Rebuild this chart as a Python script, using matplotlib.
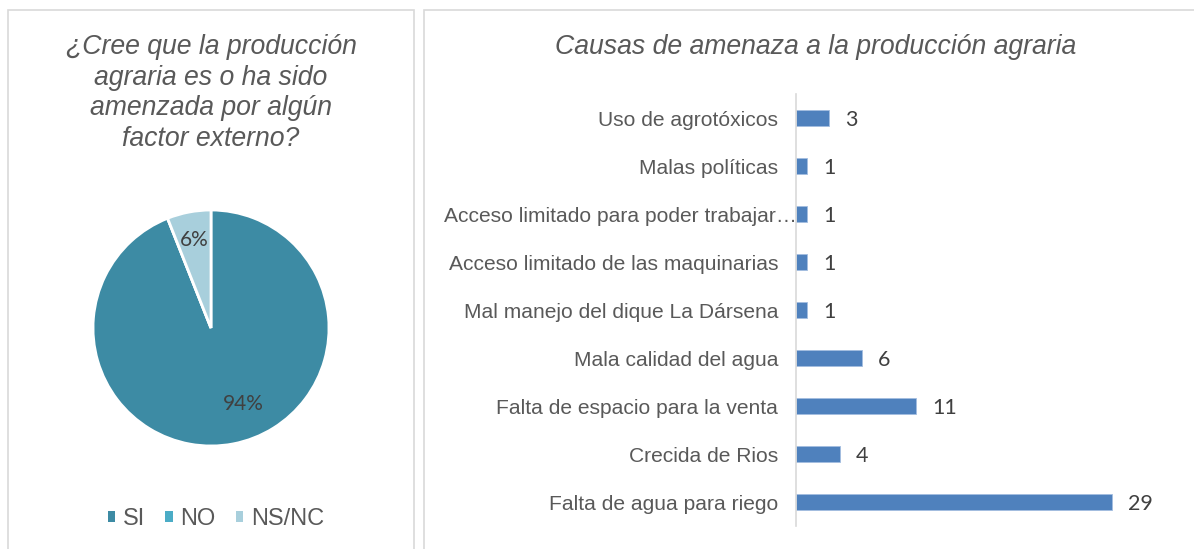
import matplotlib.pyplot as plt
import matplotlib.transforms as mtransforms
from matplotlib.patches import Rectangle, Patch

# datos del grafico circular
pie_labels = ['SI', 'NO', 'NS/NC']
pie_values = [94, 0, 6]
pie_colors = ['#3d8ba4', '#4bacc6', '#a8cfdc']

# datos de las causas (de arriba a abajo)
causas = ['Uso de agrotóxicos', 'Malas políticas', 'Acceso limitado para poder trabajar…',
          'Acceso limitado de las maquinarias', 'Mal manejo del dique La Dársena',
          'Mala calidad del agua', 'Falta de espacio para la venta', 'Crecida de Rios',
          'Falta de agua para riego']
cantidad = [3, 1, 1, 1, 1, 6, 11, 4, 29]

W, H = 1194, 549
fig = plt.figure(figsize=(W / 100, H / 100), dpi=100)


def px(x, y, w, h):
    # caja en pixeles (desde arriba) -> coordenadas de figura
    return [x / W, 1 - (y + h) / H, w / W, h / H]


# marcos de los dos paneles
fig.patches.append(Rectangle((8 / W, -0.1), 406 / W, 1.1 - 10 / H, transform=fig.transFigure,
                             fill=False, edgecolor='#d9d9d9', lw=1.2))
fig.patches.append(Rectangle((424 / W, -0.1), 1.0, 1.1 - 10 / H, transform=fig.transFigure,
                             fill=False, edgecolor='#d9d9d9', lw=1.2))

title_font = dict(family='Liberation Sans', style='italic', color='#595959', fontsize=19.2)

# ---- panel izquierdo: pastel ----
fig.text(211 / W, 1 - 34 / H, '¿Cree que la producción\nagraria es o ha sido\namenzada por algún\nfactor externo?',
         ha='center', va='top', linespacing=1.23, **title_font)

ax1 = fig.add_axes(px(93, 210, 236, 236))
wedges, texts, autotexts = ax1.pie(pie_values, colors=pie_colors, startangle=90, counterclock=False,
                                   autopct=lambda p: f'{p:.0f}%' if p > 0 else '', pctdistance=0.76,
                                   wedgeprops=dict(edgecolor='white', linewidth=2),
                                   textprops=dict(family='Lato', fontsize=15, color='#404040'))
ax1.set_xlim(-1, 1)
ax1.set_ylim(-1, 1)
ax1.set_aspect('equal')
# la etiqueta del 94% esta algo desplazada en el original
autotexts[0].set_position((0.27, -0.64))

handles = [Patch(facecolor=c, edgecolor='none') for c in pie_colors]
fig.legend(handles, pie_labels, loc='center', bbox_to_anchor=(216 / W, 1 - 519 / H), ncol=3,
           frameon=False, handlelength=0.32, handleheight=0.32, handletextpad=0.33, columnspacing=0.85,
           prop=dict(family='Liberation Sans', size=17), labelcolor='#595959')

# ---- panel derecho: barras ----
fig.text(816 / W, 1 - 47 / H, 'Causas de amenaza a la producción agraria', ha='center', va='center',
         **title_font)

ax2 = fig.add_axes(px(796.3, 94, 381.5, 432))
ypos = list(range(len(causas)))[::-1]
bars = ax2.barh(ypos, cantidad, height=0.35, color='#4f81bd', edgecolor='#a3bde0', linewidth=0.6)
ax2.set_xlim(0, 35)
ax2.set_ylim(-0.5, len(causas) - 0.5)
ax2.set_yticks(ypos)
ax2.set_yticklabels(causas, family='Liberation Sans', fontsize=15.1, color='#595959')
ax2.tick_params(axis='y', length=0, pad=13)
ax2.set_xticks([])
for s in ['top', 'right', 'bottom']:
    ax2.spines[s].set_visible(False)
ax2.spines['left'].set_color('#d9d9d9')
ax2.spines['left'].set_linewidth(1.2)

# la etiqueta truncada llega hasta el eje en el original
lab = ax2.get_yticklabels()[causas.index('Acceso limitado para poder trabajar…')]
lab.set_transform(lab.get_transform() + mtransforms.ScaledTranslation(19 / 100, 0, fig.dpi_scale_trans))

vals = ax2.bar_label(bars, padding=11.5, family='Lato', fontsize=15.5, color='#404040')
for t in vals:
    t.xyann = (t.xyann[0], t.xyann[1] - 1.5)

fig.savefig('out.png', dpi=100)
